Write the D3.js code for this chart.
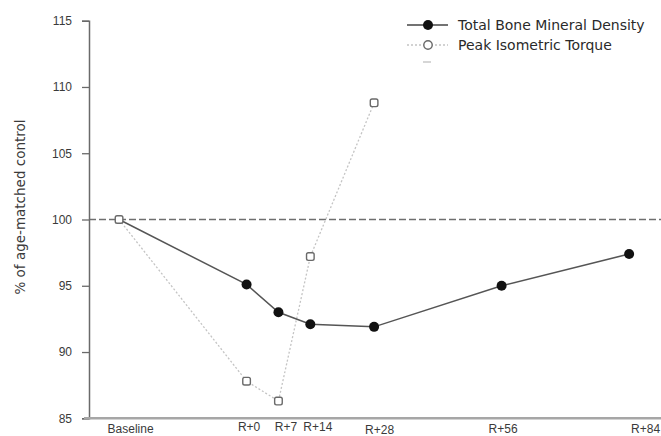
<!DOCTYPE html>
<html>
<head>
<meta charset="utf-8">
<script src="https://cdn.jsdelivr.net/npm/d3@7/dist/d3.min.js"></script>
<style>
  html, body { margin: 0; padding: 0; background: #fff; }
  svg { display: block; font-family: "DejaVu Sans", "Liberation Sans", sans-serif; }
</style>
</head>
<body>
<svg id="chart" width="661" height="436"></svg>
<script>
// Time points (days relative to return) and their labels
const timeLabels = ["Baseline", "R+0", "R+7", "R+14", "R+28", "R+56", "R+84"];
const timeDays   = [-28, 0, 7, 14, 28, 56, 84];

// % of age-matched control
const boneDensity = [100, 95.1, 93.0, 92.1, 91.9, 95.0, 97.4];
const peakTorque  = [100, 87.8, 86.3, 97.2, 108.8, null, null];

const yTicks = [85, 90, 95, 100, 105, 110, 115];
const referenceLevel = 100;

const seriesNames = ["Total Bone Mineral Density", "Peak Isometric Torque"];

const svg = d3.select("#chart");

const x = d3.scaleLinear().domain([-34.6, 91]).range([89, 661]);
const y = d3.scaleLinear().domain([85, 115]).range([418.3, 20.7]);

// Reference line at 100 %
svg.append("line")
  .attr("x1", x.range()[0]).attr("x2", x.range()[1])
  .attr("y1", y(referenceLevel)).attr("y2", y(referenceLevel))
  .attr("stroke", "#6f6f6f").attr("stroke-width", 1.3)
  .attr("stroke-dasharray", "7,3");

// Y axis
const yAxis = svg.append("g")
  .attr("transform", `translate(${x.range()[0]},0)`)
  .call(d3.axisLeft(y).tickValues(yTicks).tickFormat(d3.format("d")).tickSize(7).tickPadding(10));
yAxis.select(".domain").attr("stroke", "#6a6a6a").attr("stroke-width", 1.5);
yAxis.selectAll(".tick line").attr("stroke", "#6a6a6a").attr("stroke-width", 1.3);
yAxis.selectAll(".tick text").attr("fill", "#3a3a3a").style("font-size", "12px");

// X axis (labels only, placed along the time scale)
const labelNudge = {
  "Baseline": [11, 0], "R+0": [2, -1.5], "R+7": [7, -1.5], "R+14": [7, -1.5],
  "R+28": [5, 1], "R+56": [1, 0], "R+84": [16, 0]
};
const xAxis = svg.append("g")
  .attr("transform", `translate(0,${y(85)})`)
  .call(d3.axisBottom(x).tickValues(timeDays)
    .tickFormat((d, i) => timeLabels[i]).tickSize(0).tickPadding(6));
xAxis.select(".domain").remove();
xAxis.append("line")
  .attr("x1", 84).attr("x2", 661).attr("y1", 0).attr("y2", 0)
  .attr("stroke", "#a6a6a6").attr("stroke-width", 2.5);
xAxis.selectAll(".tick text")
  .attr("fill", "#3a3a3a").style("font-size", "12px")
  .attr("transform", (d, i) => {
    const n = labelNudge[timeLabels[i]] || [0, 0];
    return `translate(${n[0]},${n[1]})`;
  });

// Y axis title
svg.append("text")
  .attr("transform", `translate(25,207) rotate(-90)`)
  .attr("text-anchor", "middle")
  .attr("fill", "#3a3a3a")
  .style("font-size", "13.5px")
  .text("% of age-matched control");

// Series data
const bmdPts = timeDays.map((d, i) => ({ day: d, v: boneDensity[i] }));
const torquePts = timeDays.map((d, i) => ({ day: d, v: peakTorque[i] })).filter(p => p.v !== null);

const line = d3.line().x(p => x(p.day)).y(p => y(p.v));

// Peak isometric torque: light dotted line
svg.append("path")
  .datum(torquePts)
  .attr("d", line)
  .attr("fill", "none")
  .attr("stroke", "#c4c4c4").attr("stroke-width", 1.3)
  .attr("stroke-dasharray", "2,2");

// Total BMD: solid line
svg.append("path")
  .datum(bmdPts)
  .attr("d", line)
  .attr("fill", "none")
  .attr("stroke", "#555").attr("stroke-width", 1.5);

// BMD markers after return (baseline is the normalised reference)
svg.selectAll("circle.bmd")
  .data(bmdPts.filter(p => p.day >= 0))
  .join("circle")
  .attr("class", "bmd")
  .attr("cx", p => x(p.day)).attr("cy", p => y(p.v))
  .attr("r", 5).attr("fill", "#111");

// Torque open markers
svg.selectAll("rect.torque")
  .data(torquePts)
  .join("rect")
  .attr("class", "torque")
  .attr("x", p => x(p.day) - 3.8).attr("y", p => y(p.v) - 3.8)
  .attr("width", 7.6).attr("height", 7.6).attr("rx", 1.8)
  .attr("fill", "#fff").attr("stroke", "#6a6a6a").attr("stroke-width", 1.4);

// Legend
const legend = svg.append("g").attr("transform", "translate(407,0)");
const rowY = [25, 45, 62];

legend.append("line").attr("x1", 0).attr("x2", 41).attr("y1", rowY[0]).attr("y2", rowY[0])
  .attr("stroke", "#444").attr("stroke-width", 1.5);
legend.append("circle").attr("cx", 21).attr("cy", rowY[0]).attr("r", 5).attr("fill", "#111");

legend.append("line").attr("x1", 0).attr("x2", 41).attr("y1", rowY[1]).attr("y2", rowY[1])
  .attr("stroke", "#c4c4c4").attr("stroke-width", 1.3).attr("stroke-dasharray", "2,2");
legend.append("circle").attr("cx", 21).attr("cy", rowY[1]).attr("r", 4.2)
  .attr("fill", "#fff").attr("stroke", "#6a6a6a").attr("stroke-width", 1.4);

legend.append("line").attr("x1", 16).attr("x2", 24).attr("y1", rowY[2]).attr("y2", rowY[2])
  .attr("stroke", "#c8c8c8").attr("stroke-width", 1.5);

legend.selectAll("text.item")
  .data(seriesNames)
  .join("text")
  .attr("class", "item")
  .attr("x", 51).attr("y", (d, i) => rowY[i])
  .attr("dy", "0.36em")
  .attr("fill", "#2a2a2a")
  .style("font-size", "14px")
  .text(d => d);
</script>
</body>
</html>
